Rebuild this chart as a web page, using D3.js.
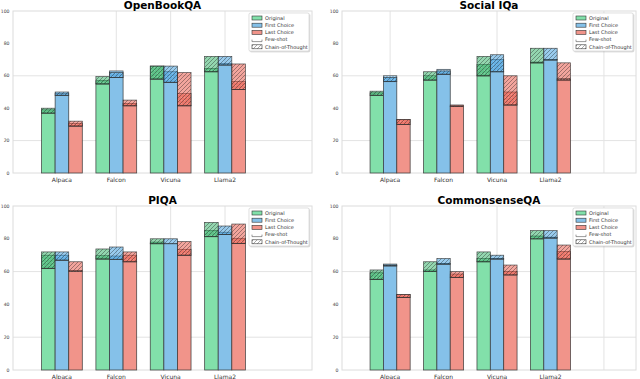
<!DOCTYPE html>
<html>
<head>
<meta charset="utf-8">
<script src="https://cdn.jsdelivr.net/npm/d3@7"></script>
<style>
body { margin: 0; background: #fff; }
svg { font-family: "DejaVu Sans", sans-serif; }
</style>
</head>
<body>
<div id="vis"></div>
<script>

var models = ["Alpaca", "Falcon", "Vicuna", "Llama2"];
var methods = ["Original", "First Choice", "Last Choice"];
var yTicks = [0, 20, 40, 60, 80, 100];
var yGrid = [20, 60];
var xGridLeft = [1, 2, 3];
var xGridRight = [0, 2, 4];

// rows = models, columns = Original / First Choice / Last Choice
var obqaZero  = [[37, 48, 29], [55, 59, 41.5], [58, 56, 41.5], [62.5, 66.7, 51.6]];
var obqaFew   = [[39, 49, 30.5], [57, 63, 43], [66, 62.5, 49], [64.5, 67.5, 56.4]];
var obqaCot   = [[40, 50, 32], [59.5, 62, 45], [66, 66, 62], [72, 72, 67.3]];

var siqaZero  = [[48, 56.4, 30], [57.4, 61, 41], [60, 62.5, 42], [68, 69.8, 58]];
var siqaFew   = [[49.5, 60, 33], [60, 64, 42], [67, 70, 50], [68.5, 70, 57]];
var siqaCot   = [[50.5, 59, 33], [62.5, 63, 41.5], [72, 73, 60], [77, 77, 68]];

var piqaZero  = [[62, 67, 60.4], [67.7, 67.5, 66], [77, 77, 70], [81.3, 82.7, 77.2]];
var piqaFew   = [[70, 70, 60], [69.7, 69.5, 70], [78, 77, 73.6], [85, 84, 80.3]];
var piqaCot   = [[72, 72, 66], [73.8, 75, 72], [80, 80, 78.3], [90, 87.8, 89]];

var csqaZero  = [[55.3, 63.5, 44.3], [60, 64.6, 56.5], [66, 67.7, 58], [80, 80.5, 67.7]];
var csqaFew   = [[59.3, 64.6, 46], [61, 65, 58.5], [68, 68, 60], [81.7, 81, 72.2]];
var csqaCot   = [[61, 64, 46], [66, 68, 60], [72, 70, 64], [85, 85, 76.2]];

var baseColors = ["#82E0AA", "#85C1E9", "#F1948A"];
var segColors = ["#27ae60", "#3498DB", "#E74C3C"];

var panels = [
  {title: "OpenBookQA", zero: obqaZero, few: obqaFew, cot: obqaCot, x0: 13, x1: 312, y0: 173, y1: 11, grid: xGridLeft},
  {title: "Social IQa", zero: siqaZero, few: siqaFew, cot: siqaCot, x0: 342, x1: 636, y0: 173, y1: 11, grid: xGridRight},
  {title: "PIQA", zero: piqaZero, few: piqaFew, cot: piqaCot, x0: 13, x1: 312, y0: 370, y1: 206, grid: xGridLeft},
  {title: "CommonsenseQA", zero: csqaZero, few: csqaFew, cot: csqaCot, x0: 342, x1: 636, y0: 370, y1: 206, grid: xGridRight}
];

var svg = d3.select("#vis").append("svg")
    .attr("width", 640)
    .attr("height", 379);

var defs = svg.append("defs");

// hatch patterns
var dots = defs.append("pattern")
    .attr("id", "dots")
    .attr("patternUnits", "userSpaceOnUse")
    .attr("width", 3).attr("height", 3);
dots.append("circle").attr("cx", 1.5).attr("cy", 1.5).attr("r", 0.55)
    .attr("fill", "#fff").attr("fill-opacity", 0.7);

var diag = defs.append("pattern")
    .attr("id", "diag")
    .attr("patternUnits", "userSpaceOnUse")
    .attr("width", 4).attr("height", 4);
diag.append("path")
    .attr("d", "M0,4 l4,-4 M-1,1 l2,-2 M3,5 l2,-2")
    .attr("stroke", "#111").attr("stroke-opacity", 0.6)
    .attr("stroke-width", 0.6);

var shadow = defs.append("filter").attr("id", "shadow")
    .attr("x", "-10%").attr("y", "-10%").attr("width", "130%").attr("height", "140%");
shadow.append("feDropShadow").attr("dx", 0.8).attr("dy", 0.8)
    .attr("stdDeviation", 0.6).attr("flood-color", "#000").attr("flood-opacity", 0.25);

var barW = 0.25;

panels.forEach(function(p) {

  var x = d3.scaleLinear().domain([-0.9, 4.6]).range([p.x0, p.x1]);
  var y = d3.scaleLinear().domain([0, 100]).range([p.y0, p.y1]);

  var g = svg.append("g");

  // gridlines
  g.selectAll(".hgrid").data(yGrid).enter().append("line")
      .attr("x1", p.x0).attr("x2", p.x1)
      .attr("y1", function(d) { return y(d); })
      .attr("y2", function(d) { return y(d); })
      .attr("stroke", "#e3e3e3").attr("stroke-width", 1);

  g.selectAll(".vgrid").data(p.grid).enter().append("line")
      .attr("x1", function(d) { return x(d); })
      .attr("x2", function(d) { return x(d); })
      .attr("y1", p.y0).attr("y2", p.y1)
      .attr("stroke", "#e3e3e3").attr("stroke-width", 1);

  // frame
  g.append("rect")
      .attr("x", p.x0).attr("y", p.y1)
      .attr("width", p.x1 - p.x0).attr("height", p.y0 - p.y1)
      .attr("fill", "none").attr("stroke", "#dcdcdc").attr("stroke-width", 1);

  // bars
  models.forEach(function(m, i) {
    methods.forEach(function(meth, j) {
      var cx = i + (j - 1) * barW;
      var left = x(cx - barW / 2);
      var w = x(cx + barW / 2) - left;
      var zs = p.zero[i][j], fs = p.few[i][j], ct = p.cot[i][j];

      g.append("rect")
          .attr("x", left).attr("width", w)
          .attr("y", y(zs)).attr("height", y(0) - y(zs))
          .attr("fill", baseColors[j])
          .attr("stroke", "#333").attr("stroke-opacity", 0.85).attr("stroke-width", 0.8);

      [[fs, "dots"], [ct, "diag"]].forEach(function(s) {
        var lo = Math.min(zs, s[0]), hi = Math.max(zs, s[0]);
        if (hi - lo <= 0) return;
        g.append("rect")
            .attr("x", left).attr("width", w)
            .attr("y", y(hi)).attr("height", y(lo) - y(hi))
            .attr("fill", segColors[j]).attr("fill-opacity", 0.5);
        g.append("rect")
            .attr("x", left).attr("width", w)
            .attr("y", y(hi)).attr("height", y(lo) - y(hi))
            .attr("fill", "url(#" + s[1] + ")")
            .attr("stroke", "#333").attr("stroke-opacity", 0.85).attr("stroke-width", 0.7);
      });
    });
  });

  // axes labels
  g.selectAll(".ytick").data(yTicks).enter().append("text")
      .attr("x", p.x0 - 3.5)
      .attr("y", function(d) { return y(d); })
      .attr("dy", "0.35em")
      .attr("text-anchor", "end")
      .style("font-size", "4.6px")
      .style("fill", "#444")
      .text(function(d) { return d; });

  g.selectAll(".xtick").data(models).enter().append("text")
      .attr("x", function(d, i) { return x(i); })
      .attr("y", p.y0 + 8.5)
      .attr("text-anchor", "middle")
      .style("font-size", "6px")
      .style("fill", "#333")
      .text(function(d) { return d; });

  // title
  g.append("text")
      .attr("x", (p.x0 + p.x1) / 2)
      .attr("y", p.y1 - 2.5)
      .attr("text-anchor", "middle")
      .style("font-size", "10.5px")
      .style("font-weight", "bold")
      .text(p.title);

  // legend
  var lg = g.append("g").attr("transform", "translate(" + (p.x1 - 63) + "," + (p.y1 + 2) + ")");
  lg.append("rect")
      .attr("width", 60).attr("height", 38).attr("rx", 1.5)
      .attr("fill", "#fff").attr("stroke", "#ccc").attr("stroke-width", 0.6)
      .attr("filter", "url(#shadow)");

  var items = methods.concat(["Few-shot", "Chain-of-Thought"]);
  items.forEach(function(name, k) {
    var ry = 3 + k * 7.2;
    if (k < 3) {
      lg.append("rect").attr("x", 3).attr("y", ry).attr("width", 10).attr("height", 4)
          .attr("fill", baseColors[k]).attr("stroke", "#333").attr("stroke-width", 0.6);
    } else if (k === 3) {
      lg.append("path")
          .attr("d", "M3," + (ry + 2) + " v2 h10 v-2")
          .attr("fill", "none").attr("stroke", "#555").attr("stroke-width", 0.6);
    } else {
      lg.append("rect").attr("x", 3).attr("y", ry).attr("width", 10).attr("height", 4)
          .attr("fill", "url(#diag)").attr("stroke", "#333").attr("stroke-width", 0.6);
    }
    lg.append("text")
        .attr("x", 16).attr("y", ry + 2)
        .attr("dy", "0.35em")
        .style("font-size", "5px")
        .style("fill", "#333")
        .text(name);
  });
});

</script>
</body>
</html>
